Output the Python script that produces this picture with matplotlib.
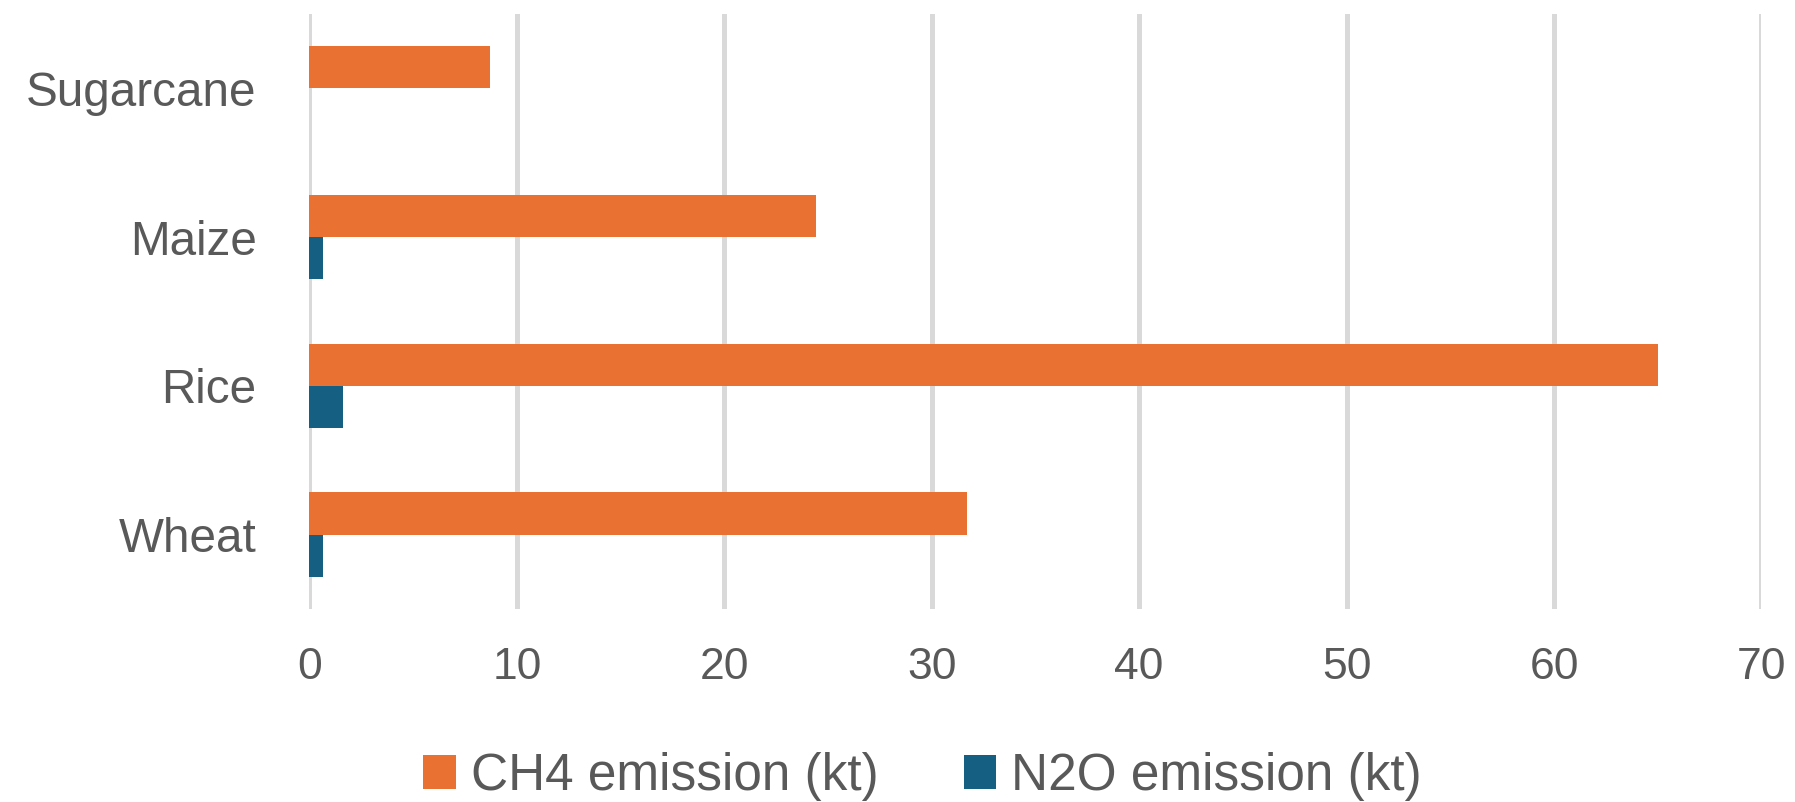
import matplotlib.pyplot as plt
import numpy as np

plt.rcParams['font.family'] = ['Liberation Sans', 'DejaVu Sans']

crops = ['Wheat', 'Rice', 'Maize', 'Sugarcane']
ch4 = [31.7, 65.0, 24.4, 8.7]
n2o = [0.65, 1.6, 0.65, 0.0]
series_names = ['CH4 emission (kt)', 'N2O emission (kt)']
xticks = [0, 10, 20, 30, 40, 50, 60, 70]

orange = '#E97132'
blue = '#156082'
grey_text = '#595959'

fig = plt.figure(figsize=(17.95, 8.02), dpi=100)
ax = fig.add_axes([0.1724, 0.2406, 0.8089, 0.7419])

y = np.arange(len(crops))
h = 0.284
ax.barh(y + h / 2, ch4, height=h, color=orange, label=series_names[0], zorder=3)
ax.barh(y - h / 2, n2o, height=h, color=blue, label=series_names[1], zorder=3)

ax.set_xlim(0, 70)
ax.set_ylim(-0.5, 3.5)
ax.set_xticks(xticks)
ax.set_yticks(y)
ax.set_yticklabels(crops)

ax.grid(axis='x', color='#D9D9D9', linewidth=3.6, zorder=0)
ax.set_axisbelow(True)
for s in ax.spines.values():
    s.set_visible(False)
ax.tick_params(axis='x', length=0, pad=27, labelsize=32, labelcolor=grey_text)
ax.tick_params(axis='y', length=0, pad=38, labelsize=34.3, labelcolor=grey_text)

fig.legend(loc='center', bbox_to_anchor=(0.514, 0.032), ncol=2, frameon=False,
           fontsize=37, labelcolor=grey_text, handlelength=0.63, handleheight=0.63,
           handletextpad=0.3, columnspacing=1.65, borderpad=0, borderaxespad=0)

fig.savefig('out.png', dpi=100)
